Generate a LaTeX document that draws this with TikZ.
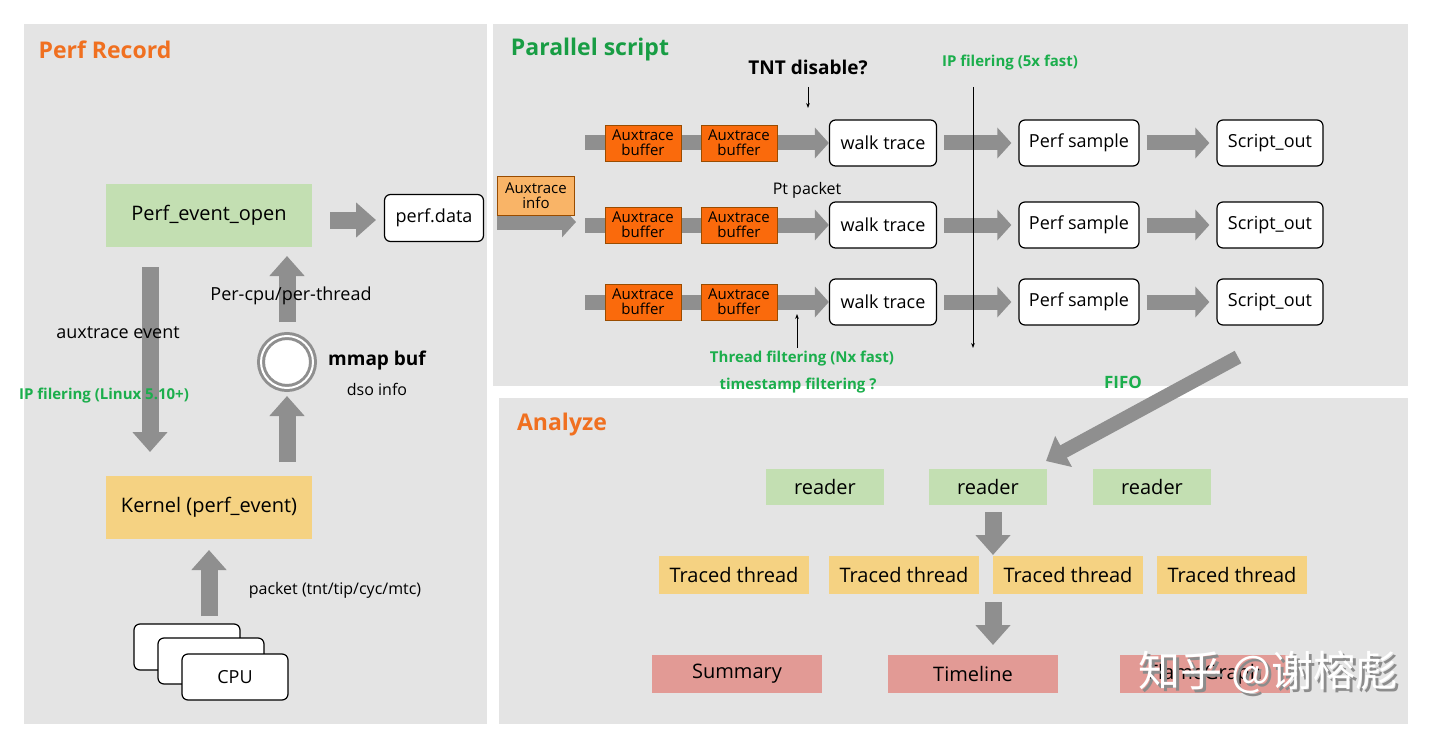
\documentclass[tikz,border=0pt]{standalone}
\usepackage{fontspec}
\setmainfont{Open Sans}
\newfontfamily\cjk{Noto Sans CJK SC}
\usetikzlibrary{arrows.meta,positioning}
\definecolor{panel}{HTML}{E4E4E4}
\definecolor{fat}{HTML}{8F8F8F}
\definecolor{grn}{HTML}{C3DFB2}
\definecolor{ylw}{HTML}{F5D282}
\definecolor{org}{HTML}{FA6A0C}
\definecolor{lorg}{HTML}{F9B467}
\definecolor{rd}{HTML}{E29A95}
\definecolor{ttl}{HTML}{F07020}
\definecolor{gtx}{HTML}{1BAE4C}
\tikzset{
  box/.style={minimum width=206pt,minimum height=63pt,font=\fontsize{20}{22}\selectfont},
  wbox/.style={draw=black,fill=white,rounded corners=6pt,line width=1.2pt,font=\fontsize{18}{20}\selectfont},
  buf/.style={fill=org,draw=orange!60!black,minimum width=76pt,minimum height=36pt,align=center,font=\fontsize{15}{15}\selectfont,inner sep=0pt},
  fat/.style={draw=fat,line width=17pt,-{Triangle[length=20pt,width=34pt]}},
  bar/.style={draw=fat,line width=15pt,-{Triangle[length=14pt,width=30pt]}},
  txt/.style={font=\fontsize{18}{20}\selectfont},
  gtxt/.style={text=gtx,font=\fontsize{15}{18}\selectfont\bfseries},
  title/.style={font=\fontsize{23}{26}\selectfont\bfseries}
}
\begin{document}
\begin{tikzpicture}[x=1pt,y=-1pt]
\useasboundingbox (0,0) rectangle (1440,733);
\fill[white] (0,0) rectangle (1440,733);
% panels
\fill[panel] (24,24) rectangle (487,724);
\fill[panel] (493,24) rectangle (1408,386);
\fill[panel] (499,398) rectangle (1408,724);
\node[title,text=ttl] (recTitle) at (105,50) {Perf Record};
\node[title,text=gtx!90!black] (parTitle) at (590,50) {Parallel script};
\node[title,text=ttl] (anaTitle) at (562,425) {Analyze};

% perf record
\node[box,fill=grn] (open) at (209,215) {Perf\_event\_open};
\node[box,fill=ylw] (kernel) at (209,507) {Kernel (perf\_event)};
\node[wbox,minimum width=99pt,minimum height=47pt] (data) at (434,218) {perf.data};
\node[circle,draw=fat,fill=white,line width=3pt,double=white,double distance=2pt,minimum size=52pt] (mmap) at (287,362) {};
\node[wbox,minimum width=106pt,minimum height=46pt] (cpu1) at (187,647) {};
\node[wbox,minimum width=106pt,minimum height=46pt] (cpu2) at (211,661) {};
\node[wbox,minimum width=106pt,minimum height=46pt] (cpu3) at (235,677) {CPU};
\coordinate (c0) at (330,220); \coordinate (c1) at (376,220);
\draw[fat] (c0) -- (c1);
\coordinate (d0) at (150,267); \coordinate (d1) at (150,452);
\draw[fat] (d0) -- (d1);
\coordinate (u0) at (287,462); \coordinate (u1) at (287,396);
\draw[fat] (u0) -- (u1);
\coordinate (v0) at (287,322); \coordinate (v1) at (287,256);
\draw[fat] (v0) -- (v1);
\coordinate (w0) at (209,616); \coordinate (w1) at (209,550);
\draw[fat] (w0) -- (w1);
\node[txt] (auxev) at (118,333) {auxtrace event};
\node[gtxt] (ipf) at (104,396) {IP filering (Linux 5.10+)};
\node[txt] (percpu) at (291,296) {Per-cpu/per-thread};
\node[txt,font=\fontsize{19}{20}\selectfont\bfseries] (mmaptxt) at (377,361) {mmap buf};
\node[txt,font=\fontsize{16}{18}\selectfont] (dso) at (377,389) {dso info};
\node[txt,font=\fontsize{16}{18}\selectfont] (pkt) at (335,590) {packet (tnt/tip/cyc/mtc)};

% parallel script
\coordinate (ia) at (497,222); \coordinate (ib) at (576,222);
\draw[bar] (ia) -- (ib);
\node[buf,fill=lorg,minimum width=77pt,minimum height=39pt] (info) at (536,196) {Auxtrace\\info};
\foreach \r/\y in {1/143,2/225,3/302} {
  \coordinate (s\r) at (585,\y);
  \node[wbox,minimum width=107pt,minimum height=46pt] (walk\r) at (883,\y) {walk trace};
  \node[wbox,minimum width=120pt,minimum height=46pt] (samp\r) at (1079,\y) {Perf sample};
  \node[wbox,minimum width=106pt,minimum height=46pt] (out\r) at (1270,\y) {Script\_out};
  \draw[bar] (s\r) -- (walk\r.west);
  \node[buf] (bufa\r) at (643,\y) {Auxtrace\\buffer};
  \node[buf] (bufb\r) at (739,\y) {Auxtrace\\buffer};
  \draw[bar,shorten <=7pt,shorten >=7pt] (walk\r.east) -- (samp\r.west);
  \draw[bar,shorten <=7pt,shorten >=7pt] (samp\r.east) -- (out\r.west);
}
\node[txt,font=\fontsize{19}{20}\selectfont\bfseries] (tnt) at (808,67) {TNT disable?};
\coordinate (t0) at (808,87); \coordinate (t1) at (808,108);
\draw[-{Stealth[length=5pt]},thick] (t0) -- (t1);
\node[gtxt] (ip5) at (1010,63) {IP filering (5x fast)};
\coordinate (l0) at (973,87); \coordinate (l1) at (973,348);
\draw[-{Stealth[length=5pt]},thick] (l0) -- (l1);
\node[txt,font=\fontsize{16}{18}\selectfont] (pt) at (807,190) {Pt packet};
\coordinate (f0) at (797,348); \coordinate (f1) at (797,314);
\draw[-{Stealth[length=5pt]},thick] (f0) -- (f1);
\node[gtxt] (thr) at (802,359) {Thread filtering (Nx fast)};
\node[gtxt] (tsf) at (798,386) {timestamp filtering ?};
\node[gtxt,font=\fontsize{17}{20}\selectfont\bfseries] (fifo) at (1123,382) {FIFO};

% analyze
\foreach \i/\x in {1/825,2/988,3/1152}
  \node[box,fill=grn,minimum width=118pt,minimum height=36pt] (rd\i) at (\x,487) {reader};
\foreach \i/\x in {1/734,2/904,3/1068,4/1232}
  \node[box,fill=ylw,minimum width=150pt,minimum height=38pt] (tt\i) at (\x,575) {Traced thread};
\node[box,fill=rd,minimum width=170pt,minimum height=38pt] (sum) at (737,674) {Summary};
\node[box,fill=rd,minimum width=170pt,minimum height=38pt] (time) at (973,674) {Timeline};
\node[box,fill=rd,minimum width=170pt,minimum height=38pt] (flame) at (1205,674) {FlameGraph};
\coordinate (a0) at (993,512); \coordinate (a1) at (993,555);
\draw[fat] (a0) -- (a1);
\coordinate (b0) at (993,602); \coordinate (b1) at (993,645);
\draw[fat] (b0) -- (b1);
\coordinate (q0) at (1238,357); \coordinate (q1) at (1046,461);
\draw[fat,line width=14pt] (q0) -- (q1);

% watermark
\node[text=black!45,font=\cjk\fontsize{42}{44}\selectfont] (wm0) at (1271,675) {知乎 @谢榕彪};
\node[text=white,font=\cjk\fontsize{42}{44}\selectfont] (wm) at (1268,672) {知乎 @谢榕彪};
\end{tikzpicture}
\end{document}
